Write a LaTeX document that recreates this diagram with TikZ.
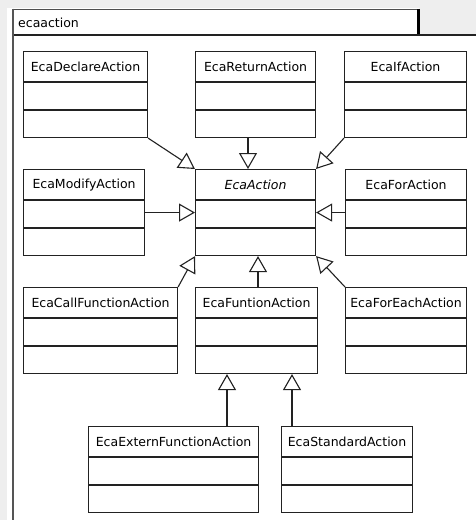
\documentclass[tikz,border=0pt]{standalone}
\usepackage{fontspec}
\setmainfont{DejaVu Sans}
\usetikzlibrary{arrows.meta,calc}
\definecolor{pagebg}{HTML}{EEEEEE}
\definecolor{ink}{HTML}{222222}
\definecolor{framegray}{HTML}{555555}

% UML class box with name compartment and two empty compartments
% #1 id, #2 left, #3 top, #4 right, #5 class name
\newcommand\umlclass[5]{%
  \node[clsbox, minimum width={(#4)-(#2)}] (#1) at (#2,#3) {};
  \draw[divider] ($(#1.north west)+(0,31)$) -- ($(#1.north east)+(0,31)$);
  \draw[divider] ($(#1.north west)+(0,59)$) -- ($(#1.north east)+(0,59)$);
  \node[clsname] (#1-name) at ($(#1.north)+(0,16)$) {#5};
}

\begin{document}
\begin{tikzpicture}[x=1pt,y=-1pt,
  clsbox/.style={draw=ink, line width=1.1pt, fill=white, rectangle,
    inner sep=0pt, minimum height=86pt, anchor=north west},
  clsname/.style={font=\fontsize{12.5}{15}\selectfont, text=black, inner sep=0pt},
  divider/.style={draw=ink, line width=1.1pt},
  gen/.style={draw=ink, line width=1.1pt,
    -{Triangle[open,length=16pt,width=18pt]}}]
\useasboundingbox (0,0) rectangle (476,520);

% package frame with its name tab
\fill[pagebg] (0,0) rectangle (476,520);
\fill[white] (7,35) rectangle (476,520);
\fill[white] (7,8) rectangle (420,35);
\draw[ink!80, line width=1pt] (13,9) -- (418,9);
\draw[black, line width=3pt] (418,8.5) -- (418,35);
\draw[ink, line width=1.2pt] (13,35) -- (476,35);
\draw[framegray, line width=2.2pt] (13,8.5) -- (13,520);
\node[clsname, anchor=base west] (pkg) at (18,27) {ecaaction};

% classes
\umlclass{decl}{23}{51}{147}{EcaDeclareAction}
\umlclass{ret}{195}{51}{315}{EcaReturnAction}
\umlclass{ifact}{344}{51}{466}{EcaIfAction}
\umlclass{mod}{23}{169}{144}{EcaModifyAction}
\umlclass{act}{195}{169}{315}{\itshape EcaAction}
\umlclass{foract}{345}{169}{466}{EcaForAction}
\umlclass{call}{23}{287}{177}{EcaCallFunctionAction}
\umlclass{fun}{195}{287}{317}{EcaFuntionAction}
\umlclass{foreach}{345}{287}{466}{EcaForEachAction}
\umlclass{ext}{88}{426}{258}{EcaExternFunctionAction}
\umlclass{std}{281}{426}{412}{EcaStandardAction}

% generalizations
\draw[gen] (decl.south east) -- (act.north west);
\draw[gen] ($(ret.south west)+(53,0)$) -- ($(act.north west)+(53,0)$);
\draw[gen] (ifact.south west) -- (act.north east);
\draw[gen] (mod.east) -- (act.west);
\draw[gen] (foract.west) -- (act.east);
\draw[gen] (call.north east) -- (act.south west);
\draw[gen] ($(fun.north west)+(63,0)$) -- ($(act.south west)+(63,0)$);
\draw[gen] (foreach.north west) -- (act.south east);
\draw[gen] ($(ext.north west)+(139,0)$) -- ($(fun.south west)+(32,0)$);
\draw[gen] ($(std.north west)+(11,0)$) -- ($(fun.south west)+(97,0)$);
\end{tikzpicture}
\end{document}
